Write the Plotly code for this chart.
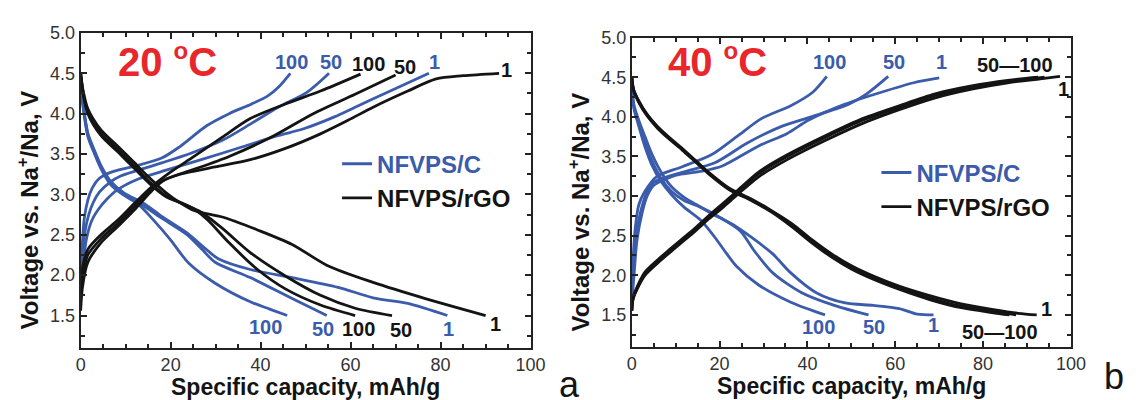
import plotly.graph_objects as go

W, H = 1139, 400

BLUE = "#3b5bab"
BLACK = "#141414"
RED = "#e8262b"
AXIS = "#222222"
TICK = "#333333"

# ---------------- 20 °C : (capacity mAh/g, voltage V) ----------------
# NFVPS/C charge
C20_C_CH_100 = [(0, 1.76), (0.3, 2.3), (0.8, 2.7), (1.6, 2.93), (2.6, 3.08), (4, 3.19), (6.5, 3.27),
                (12, 3.35), (18, 3.45), (22, 3.59), (28, 3.85), (33, 4.0), (38, 4.12), (41.6, 4.22),
                (44, 4.33), (46.6, 4.5)]
C20_C_CH_50 = [(0, 1.76), (0.4, 2.2), (1, 2.55), (1.8, 2.75), (2.8, 2.9), (4.2, 3.03), (6.5, 3.15),
               (9, 3.23), (12.8, 3.3), (18, 3.39), (24.5, 3.51), (31.5, 3.67), (37.7, 3.87),
               (43.9, 4.08), (50.2, 4.26), (55.2, 4.5)]
C20_C_CH_1 = [(0, 1.76), (0.5, 2.1), (1.3, 2.45), (2.5, 2.68), (4, 2.82), (5.8, 2.94), (8, 3.05),
              (12.8, 3.19), (19, 3.3), (26.8, 3.43), (36, 3.59), (44, 3.73), (49.4, 3.81),
              (56.4, 3.96), (61, 4.08), (68.8, 4.28), (77.4, 4.5)]
# NFVPS/C discharge
C20_C_DIS_100 = [(0, 4.38), (0.5, 4.1), (1.6, 3.72), (3.1, 3.5), (4.5, 3.32), (6.7, 3.12), (9.6, 2.99),
                 (12.8, 2.88), (15.9, 2.7), (19.8, 2.45), (24, 2.15), (29.9, 1.9), (37.7, 1.67),
                 (42, 1.58), (45.9, 1.5)]
C20_C_DIS_50 = [(0, 4.38), (0.5, 4.12), (1.6, 3.74), (3.1, 3.52), (4.5, 3.34), (6.7, 3.14), (9.6, 3.0),
                (13.6, 2.87), (18.2, 2.7), (23.7, 2.5), (26.8, 2.33), (29.9, 2.16), (37.7, 1.97),
                (47, 1.71), (54.7, 1.5)]
C20_C_DIS_1 = [(0, 4.38), (0.5, 4.14), (1.6, 3.76), (3.1, 3.54), (4.5, 3.36), (6.7, 3.16), (9.6, 3.02),
               (14.3, 2.88), (18.2, 2.72), (23.7, 2.52), (28.3, 2.3), (30.7, 2.2), (37.7, 2.07),
               (47, 1.97), (57.2, 1.85), (65, 1.72), (72.7, 1.65), (81.5, 1.5)]
# NFVPS/rGO charge
C20_G_CH_1 = [(0, 1.56), (0.4, 1.85), (1.6, 2.16), (4.5, 2.4), (8.2, 2.6), (11.8, 2.8), (15.4, 3.02),
              (18, 3.16), (22.1, 3.25), (29.9, 3.34), (37.7, 3.43), (45.5, 3.57), (53.3, 3.75),
              (59.5, 3.92), (65, 4.08), (72.7, 4.28), (79, 4.43), (85, 4.47), (93, 4.5)]
C20_G_CH_50 = [(0, 1.75), (0.5, 2.0), (1.6, 2.25), (4.5, 2.45), (8.2, 2.64), (11.8, 2.84), (15.4, 3.04),
               (19, 3.19), (25.2, 3.31), (33, 3.47), (42.4, 3.71), (51.7, 4.0), (61, 4.24), (70, 4.48)]
C20_G_CH_100 = [(0, 1.9), (0.5, 2.12), (1.6, 2.32), (4.5, 2.5), (8.2, 2.68), (11.8, 2.88), (15.9, 3.1),
                (19.8, 3.27), (25.2, 3.47), (31.5, 3.71), (37.7, 3.94), (45.5, 4.12), (53.3, 4.28),
                (62.2, 4.49)]
# NFVPS/rGO discharge
C20_G_DIS_1 = [(0, 4.5), (0.5, 4.3), (1.6, 4.06), (4.5, 3.8), (8.2, 3.6), (11.8, 3.4), (15.4, 3.2),
               (19, 3.02), (22, 2.9), (25.2, 2.8), (31.5, 2.72), (39.3, 2.56), (47, 2.38), (54.8, 2.12),
               (65, 1.91), (76.6, 1.71), (90, 1.5)]
C20_G_DIS_50 = [(0, 4.5), (0.5, 4.28), (1.6, 4.02), (4.5, 3.76), (8.2, 3.56), (11.8, 3.36), (15.4, 3.15),
                (19, 2.98), (23, 2.88), (26.8, 2.78), (31.5, 2.58), (37.7, 2.28), (45.5, 1.99),
                (53.3, 1.75), (61, 1.59), (69.2, 1.5)]
C20_G_DIS_100 = [(0, 4.5), (0.5, 4.26), (1.6, 4.0), (4.5, 3.73), (8.2, 3.53), (11.8, 3.33), (15.4, 3.13),
                 (19, 2.97), (22, 2.9), (25.2, 2.82), (28.3, 2.68), (33, 2.4), (39.3, 2.07), (45.5, 1.83),
                 (53.3, 1.63), (61, 1.5)]

# ---------------- 40 °C ----------------
C40_C_CH_100 = [(0, 1.65), (0.3, 2.2), (0.8, 2.6), (1.6, 2.89), (2.9, 3.05), (5.8, 3.25), (11.5, 3.37),
                (18.1, 3.52), (23.9, 3.75), (29.6, 3.98), (36.2, 4.14), (41.2, 4.31), (44.4, 4.51)]
C40_C_CH_50 = [(0, 1.65), (0.4, 2.1), (1, 2.5), (2, 2.8), (3.3, 3.03), (4.9, 3.17), (11.5, 3.3),
               (18.9, 3.42), (26.3, 3.67), (33.7, 3.87), (40.3, 3.99), (49.4, 4.16), (53.5, 4.29),
               (58.4, 4.51)]
C40_C_CH_1 = [(0, 1.65), (0.5, 2.0), (1.2, 2.45), (2.4, 2.8), (3.5, 3.0), (4.9, 3.13), (9.9, 3.26),
              (15.6, 3.31), (20.6, 3.38), (28.8, 3.63), (35.4, 3.79), (40.3, 3.96), (48.6, 4.16),
              (56.8, 4.31), (64.2, 4.43), (70, 4.49)]
C40_C_DIS_100 = [(0, 4.36), (0.5, 4.1), (1.5, 3.9), (3, 3.62), (4.5, 3.4), (6.7, 3.18), (9, 3.02),
                 (11.9, 2.86), (15.6, 2.7), (18.9, 2.48), (21.5, 2.28), (23.9, 2.11), (28.8, 1.88),
                 (36.2, 1.66), (44, 1.5)]
C40_C_DIS_50 = [(0, 4.36), (0.5, 4.12), (1.5, 3.93), (3, 3.68), (4.5, 3.46), (6.7, 3.22), (9, 3.06),
                (12, 2.94), (15.6, 2.86), (19.8, 2.74), (24.7, 2.56), (28, 2.3), (32.1, 2.03),
                (38.7, 1.78), (46.1, 1.62), (53.9, 1.5)]
C40_C_DIS_1 = [(0, 4.36), (0.5, 4.15), (1.5, 3.97), (3, 3.75), (4.5, 3.54), (6.7, 3.3), (9, 3.12),
               (12, 2.98), (14.8, 2.89), (18.1, 2.78), (23, 2.64), (27.2, 2.48), (32.1, 2.27),
               (36.2, 2.03), (42, 1.78), (48.6, 1.65), (55, 1.62), (60.9, 1.58), (65, 1.51), (68.7, 1.5)]
C40_G_CH_1 = [(0, 1.55), (0.3, 1.7), (1.6, 1.87), (3, 2.0), (5.8, 2.15), (8.5, 2.28), (11.5, 2.42),
              (14.5, 2.56), (17.3, 2.7), (20.6, 2.85), (23.9, 3.01), (28.8, 3.24), (35.4, 3.46),
              (44.4, 3.71), (52.7, 3.92), (60.9, 4.09), (69.1, 4.24), (77.4, 4.35), (85.6, 4.43),
              (93, 4.48), (97.5, 4.51)]
C40_G_CH_50 = [(0, 1.55), (0.3, 1.71), (1.6, 1.88), (3, 2.02), (5.8, 2.17), (8.5, 2.3), (11.5, 2.44),
               (14.5, 2.58), (17.3, 2.72), (20.6, 2.88), (23.9, 3.04), (28.8, 3.28), (35.4, 3.5),
               (44.4, 3.75), (52.7, 3.96), (60.9, 4.12), (69.1, 4.27), (77.4, 4.37), (85.6, 4.44),
               (94, 4.5)]
C40_G_CH_100 = [(0, 1.56), (0.3, 1.72), (1.6, 1.9), (3, 2.04), (5.8, 2.19), (8.5, 2.32), (11.5, 2.46),
                (14.5, 2.6), (17.3, 2.74), (20.6, 2.9), (23.9, 3.06), (28.8, 3.3), (35.4, 3.52),
                (44.4, 3.77), (52.7, 3.98), (60.9, 4.14), (69.1, 4.29), (77.4, 4.39), (85.6, 4.46),
                (92.5, 4.5)]
C40_G_DIS_1 = [(0, 4.5), (0.4, 4.35), (1.6, 4.2), (3.5, 4.03), (5.8, 3.88), (8.5, 3.74), (11.5, 3.6),
               (14.5, 3.45), (17.3, 3.31), (22.2, 3.1), (27.3, 2.96), (32, 2.81), (36.5, 2.65),
               (41, 2.45), (45.5, 2.27), (50, 2.12), (55, 1.99), (61, 1.86), (68, 1.74), (75, 1.64),
               (82, 1.57), (88, 1.52), (92.2, 1.5)]
C40_G_DIS_50 = [(0, 4.5), (0.4, 4.34), (1.6, 4.19), (3.5, 4.02), (5.8, 3.87), (8.5, 3.73), (11.5, 3.59),
                (14.5, 3.44), (17.3, 3.3), (22.2, 3.09), (27.3, 2.95), (32, 2.8), (36.5, 2.63),
                (41, 2.43), (45.5, 2.25), (50, 2.1), (55, 1.97), (61, 1.84), (68, 1.71), (75, 1.61),
                (82, 1.55), (87.5, 1.5)]
C40_G_DIS_100 = [(0, 4.5), (0.4, 4.33), (1.6, 4.18), (3.5, 4.01), (5.8, 3.86), (8.5, 3.72), (11.5, 3.58),
                 (14.5, 3.43), (17.3, 3.29), (22.2, 3.08), (27.3, 2.94), (32, 2.79), (36.5, 2.61),
                 (41, 2.41), (45.5, 2.23), (50, 2.08), (55, 1.95), (61, 1.82), (68, 1.69), (75, 1.59),
                 (82, 1.53), (86, 1.5)]

PANEL_20 = [(C20_C_CH_100, BLUE), (C20_C_CH_50, BLUE), (C20_C_CH_1, BLUE),
            (C20_C_DIS_100, BLUE), (C20_C_DIS_50, BLUE), (C20_C_DIS_1, BLUE),
            (C20_G_CH_1, BLACK), (C20_G_CH_50, BLACK), (C20_G_CH_100, BLACK),
            (C20_G_DIS_1, BLACK), (C20_G_DIS_50, BLACK), (C20_G_DIS_100, BLACK)]
PANEL_40 = [(C40_C_CH_100, BLUE), (C40_C_CH_50, BLUE), (C40_C_CH_1, BLUE),
            (C40_C_DIS_100, BLUE), (C40_C_DIS_50, BLUE), (C40_C_DIS_1, BLUE),
            (C40_G_CH_1, BLACK), (C40_G_CH_50, BLACK), (C40_G_CH_100, BLACK),
            (C40_G_DIS_1, BLACK), (C40_G_DIS_50, BLACK), (C40_G_DIS_100, BLACK)]

SERIES_NAMES = {BLUE: "NFVPS/C", BLACK: "NFVPS/rGO"}


def px(x):
    return x / W


def py(y):
    return 1 - y / H


fig = go.Figure()

for axis_i, (panel, legend_id) in enumerate([(PANEL_20, "legend"), (PANEL_40, "legend2")]):
    xa = "x" if axis_i == 0 else "x2"
    ya = "y" if axis_i == 0 else "y2"
    shown = set()
    for pts, color in panel:
        first = color not in shown
        shown.add(color)
        name = SERIES_NAMES[color]
        fig.add_trace(go.Scatter(
            x=[p[0] for p in pts], y=[p[1] for p in pts],
            mode="lines", line=dict(color=color, width=2.8, shape="spline", smoothing=0.8),
            xaxis=xa, yaxis=ya, legend=legend_id,
            name=f"<span style='color:{color}'>{name}</span>",
            legendgroup=f"{axis_i}-{name}", showlegend=first,
        ))

tick_font = dict(family="Liberation Sans, Arial, sans-serif", size=18, color=TICK)
xcommon = dict(range=[0, 100], dtick=20, tick0=0, ticks="inside", ticklen=6, tickwidth=1.5,
               tickcolor=AXIS, showline=True, linewidth=2, linecolor=AXIS, mirror="ticks",
               showgrid=False, zeroline=False, tickfont=tick_font,
               minor=dict(dtick=5, ticks="inside", ticklen=4, tickwidth=1.5, tickcolor=AXIS))
ycommon = dict(range=[1.1, 5.0], dtick=0.5, tick0=0, tickformat=".1f", ticks="inside", ticklen=6,
               tickwidth=1.5, tickcolor=AXIS, showline=True, linewidth=2, linecolor=AXIS,
               mirror="ticks", showgrid=False, zeroline=False, tickfont=tick_font,
               minor=dict(dtick=0.25, ticks="inside", ticklen=4, tickwidth=1.5, tickcolor=AXIS))

legend_font = dict(family="Liberation Sans, Arial, sans-serif", size=24, color=BLACK, weight="bold")
fig.update_layout(
    width=W, height=H, margin=dict(l=0, r=0, t=0, b=0),
    paper_bgcolor="white", plot_bgcolor="white",
    xaxis=dict(domain=[px(77), px(535)], anchor="y", **xcommon),
    yaxis=dict(domain=[py(346.5), py(23.5)], anchor="x", **ycommon),
    xaxis2=dict(domain=[px(638), px(1085)], anchor="y2", **xcommon),
    yaxis2=dict(domain=[py(345.2), py(28.3)], anchor="x2", **ycommon),
    legend=dict(x=px(338), y=py(135), xanchor="left", yanchor="top", bgcolor="rgba(0,0,0,0)",
                font=legend_font, tracegroupgap=0, itemwidth=30),
    legend2=dict(x=px(887), y=py(144), xanchor="left", yanchor="top", bgcolor="rgba(0,0,0,0)",
                 font=legend_font, tracegroupgap=0, itemwidth=30),
)

ann = []
bold = dict(family="Liberation Sans, Arial, sans-serif", weight="bold")


def label(x, y, text, color, size=20, **kw):
    ann.append(dict(x=px(x), y=py(y), xref="paper", yref="paper", text=text, showarrow=False,
                    xanchor=kw.get("xanchor", "center"), yanchor=kw.get("yanchor", "middle"),
                    textangle=kw.get("textangle", 0),
                    font=dict(size=size, color=color, **kw.get("font", bold))))


# curve labels, 20 °C
for x, y, t, c in [(291.7, 53, "100", BLUE), (331.7, 53, "50", BLUE), (370, 55, "100", BLACK),
                   (406.7, 58, "50", BLACK), (436.7, 53, "1", BLUE), (510, 62, "1", BLACK),
                   (265, 325, "100", BLUE), (323.3, 326.7, "50", BLUE), (360, 326.7, "100", BLACK),
                   (403, 328, "50", BLACK), (451.7, 326.7, "1", BLUE), (499, 321.7, "1", BLACK)]:
    label(x, y, t, c)
# curve labels, 40 °C
for x, y, t, c in [(839, 53, "100", BLUE), (905, 53, "50", BLUE), (953, 53, "1", BLUE),
                   (1028, 56, "50\u2014100", BLACK), (1077, 81, "1", BLACK),
                   (828, 325, "100", BLUE), (885, 325, "50", BLUE), (945, 323.3, "1", BLUE),
                   (1013, 330, "50\u2014100", BLACK), (1060, 307, "1", BLACK)]:
    label(x, y, t, c)

# temperature tags
deg = "<sup><span style='font-size:24px'>o</span></sup>"
label(113, 52, f"20 {deg}C", RED, size=40, xanchor="left")
label(673, 52, f"40 {deg}C", RED, size=40, xanchor="left")

# axis titles
for cx, cy in [(306, 387), (861.5, 386)]:
    label(cx, cy, "Specific capacity, mAh/g", BLACK, size=23)
for cx, cy in [(23, 205), (584, 207)]:
    label(cx, cy, "Voltage vs. Na<sup>+</sup>/Na, V", BLACK, size=24, textangle=-90)

# panel letters
label(575, 384, "a", BLACK, size=36, font=dict(family="Liberation Sans, Arial, sans-serif"))
label(1129, 376, "b", BLACK, size=36, font=dict(family="Liberation Sans, Arial, sans-serif"))

fig.update_layout(annotations=ann)
fig.write_html("out.html")
